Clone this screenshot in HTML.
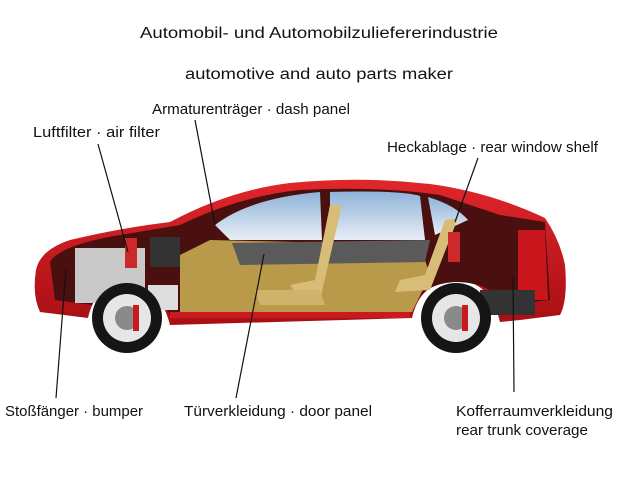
<!DOCTYPE html>
<html><head><meta charset="utf-8"><style>
body{margin:0;background:#fff;width:621px;height:478px;overflow:hidden}
svg{display:block}
text{font-family:"Liberation Sans",sans-serif;fill:#111}
</style></head><body>
<svg width="621" height="478" viewBox="0 0 621 478">
<defs>
<linearGradient id="glass" x1="0" y1="0" x2="0" y2="1"><stop offset="0" stop-color="#8fb3d9"/><stop offset="1" stop-color="#e8eef5"/></linearGradient>
<linearGradient id="red" x1="0" y1="0" x2="0" y2="1"><stop offset="0" stop-color="#e0262b"/><stop offset="1" stop-color="#a80f14"/></linearGradient>
</defs>
<text x="140" y="38" font-size="15.5" textLength="358" lengthAdjust="spacingAndGlyphs">Automobil- und Automobilzuliefererindustrie</text>
<text x="185" y="79" font-size="15.5" textLength="268" lengthAdjust="spacingAndGlyphs">automotive  and auto parts maker</text>

<path d="M36,270 Q40,250 70,240 Q120,228 170,222 Q230,190 290,183 Q360,176 430,184 Q490,192 545,218 Q560,240 565,265 Q568,300 560,315 L520,320 L500,322 Q490,280 455,280 Q420,282 412,318 L170,325 Q160,285 127,283 Q95,285 88,318 L40,312 Q32,295 36,270Z" fill="url(#red)"/>
<path d="M50,262 Q60,245 120,235 L180,225 Q240,196 300,190 Q380,186 440,195 L500,215 L545,222 L550,300 L505,305 Q490,282 455,282 Q420,284 414,310 L170,315 Q160,287 127,285 Q100,287 92,305 L55,300Z" fill="#4a1010"/>
<path d="M215,225 Q250,198 320,192 L322,240 L230,240Z" fill="url(#glass)"/>
<path d="M330,192 Q400,190 420,196 L425,240 L330,240Z" fill="url(#glass)"/>
<path d="M428,197 Q455,205 468,220 L435,235Z" fill="url(#glass)"/>
<path d="M180,255 L210,240 L420,245 L430,275 L412,312 L180,312Z" fill="#b89a4a"/>
<path d="M232,243 L430,240 L425,262 L240,265Z" fill="#5a5a5a"/>
<path d="M330,205 L342,205 L320,300 L300,300 L290,285 L315,280Z" fill="#d8bd78"/>
<path d="M445,220 L458,218 L430,290 L395,292 L400,280 L425,275Z" fill="#d8bd78"/>
<path d="M255,290 L320,290 L325,305 L260,305Z" fill="#d0b36a"/>
<rect x="75" y="248" width="70" height="55" fill="#c9c9c9"/>
<rect x="150" y="237" width="30" height="30" fill="#333"/>
<rect x="148" y="285" width="30" height="25" fill="#ddd"/>
<path d="M518,230 L545,230 L548,300 L518,300Z" fill="#c8161c"/>
<rect x="480" y="290" width="55" height="25" fill="#333"/>
<rect x="125" y="238" width="12" height="30" fill="#cc2a2a"/>
<rect x="448" y="232" width="12" height="30" fill="#cc2a2a"/>
<rect x="170" y="312" width="240" height="6" fill="#c81a1f"/>
<g><circle cx="127" cy="318" r="35" fill="#151515"/><circle cx="127" cy="318" r="24" fill="#e6e6e6"/><circle cx="127" cy="318" r="12" fill="#8a8a8a"/><rect x="133" y="305" width="6" height="26" fill="#c81a1f"/></g>
<g><circle cx="456" cy="318" r="35" fill="#151515"/><circle cx="456" cy="318" r="24" fill="#e6e6e6"/><circle cx="456" cy="318" r="12" fill="#8a8a8a"/><rect x="462" y="305" width="6" height="26" fill="#c81a1f"/></g>

<g stroke="#111" stroke-width="1.2" fill="none">
<line x1="98" y1="144" x2="128" y2="252"/>
<line x1="195" y1="120" x2="215" y2="225"/>
<line x1="478" y1="158" x2="455" y2="222"/>
<line x1="56" y1="398" x2="66" y2="268"/>
<line x1="236" y1="398" x2="264" y2="254"/>
<line x1="514" y1="392" x2="513" y2="278"/>
</g>
<g font-size="14.5">
<text x="152" y="114" textLength="198" lengthAdjust="spacingAndGlyphs">Armaturenträger · dash panel</text>
<text x="33" y="137" textLength="127" lengthAdjust="spacingAndGlyphs">Luftfilter · air filter</text>
<text x="387" y="152" textLength="211" lengthAdjust="spacingAndGlyphs">Heckablage · rear window shelf</text>
<text x="5" y="416" textLength="138" lengthAdjust="spacingAndGlyphs">Stoßfänger · bumper</text>
<text x="184" y="416" textLength="188" lengthAdjust="spacingAndGlyphs">Türverkleidung · door panel</text>
<text x="456" y="416" textLength="157" lengthAdjust="spacingAndGlyphs">Kofferraumverkleidung</text>
<text x="456" y="435" textLength="132" lengthAdjust="spacingAndGlyphs">rear trunk coverage</text>
</g>
</svg>
</body></html>
